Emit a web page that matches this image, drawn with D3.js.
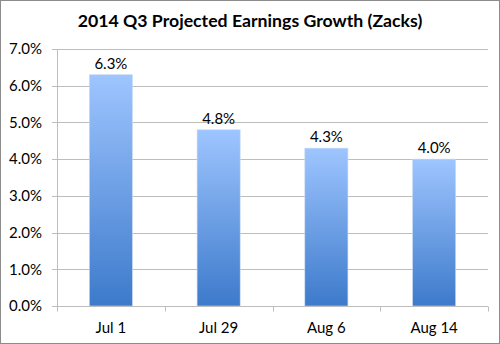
<!DOCTYPE html>
<html>
<head>
<meta charset="utf-8">
<script src="https://cdn.jsdelivr.net/npm/d3@7"></script>
<style>
  body { margin: 0; background: #fff; }
  svg { display: block; font-family: Lato, "Open Sans", sans-serif; }
</style>
</head>
<body>
<div id="chart"></div>
<script>
// chart data
const dates = ['Jul 1', 'Jul 29', 'Aug 6', 'Aug 14'];
const growth = [6.3, 4.8, 4.3, 4.0];
const yTicks = [0, 1, 2, 3, 4, 5, 6, 7];

const totalWidth = 500
const totalHeight = 344

const leftMargin = 57
const rightMargin = 12
const topMargin = 49
const bottomMargin = 38

const plotWidth = totalWidth - leftMargin - rightMargin;
const plotHeight = totalHeight - topMargin - bottomMargin;

const root = d3.select('#chart')
    .append('svg')
    .attr('width', totalWidth)
    .attr('height', totalHeight);

// outer frame
root.append('rect')
    .attr('x', 0.5).attr('y', 0.5)
    .attr('width', totalWidth - 1).attr('height', totalHeight - 1)
    .attr('fill', '#fff')
    .attr('stroke', '#8c8c8c');

const grad = root.append('defs').append('linearGradient')
    .attr('id', 'barFill')
    .attr('x1', 0).attr('y1', 0).attr('x2', 0).attr('y2', 1);
grad.append('stop').attr('offset', '0%').attr('stop-color', '#9ec5ff');
grad.append('stop').attr('offset', '100%').attr('stop-color', '#3d7acb');

root.append('text')
    .attr('x', totalWidth / 2)
    .attr('y', 27)
    .attr('text-anchor', 'middle')
    .style('font-size', '17.7px')
    .style('font-weight', 'bold')
    .attr('fill', '#000')
    .text('2014 Q3 Projected Earnings Growth (Zacks)');

const svg = root.append('g')
    .attr('transform', `translate(${leftMargin},${topMargin})`);

const xScale = d3.scaleBand()
    .domain(dates)
    .range([0, plotWidth])
    .paddingInner(0.6)
    .paddingOuter(0.3);

const yScale = d3.scaleLinear()
    .domain([0, 7])
    .range([plotHeight, 0]);

// gridlines
svg.append('g')
    .selectAll('line')
    .data(yTicks)
    .enter()
    .append('line')
    .attr('x1', -5)
    .attr('x2', plotWidth)
    .attr('y1', d => Math.round(yScale(d)) + 0.5)
    .attr('y2', d => Math.round(yScale(d)) + 0.5)
    .attr('stroke', '#bdbdbd');

// y labels
svg.append('g')
    .selectAll('text')
    .data(yTicks)
    .enter()
    .append('text')
    .attr('x', -15)
    .attr('y', d => yScale(d))
    .attr('dy', '0.35em')
    .attr('text-anchor', 'end')
    .style('font-size', '15px')
    .attr('fill', '#000')
    .text(d => d.toFixed(1) + '%');

// bars
svg.selectAll('rect.bar')
    .data(growth)
    .enter()
    .append('rect')
    .attr('class', 'bar')
    .attr('x', (d, i) => xScale(dates[i]))
    .attr('y', d => yScale(d))
    .attr('width', xScale.bandwidth())
    .attr('height', d => plotHeight - yScale(d))
    .attr('fill', 'url(#barFill)')
    .attr('stroke', '#c9dcf5')
    .attr('stroke-width', 0.6);

// value labels
svg.selectAll('text.value')
    .data(growth)
    .enter()
    .append('text')
    .attr('class', 'value')
    .attr('x', (d, i) => xScale(dates[i]) + xScale.bandwidth() / 2)
    .attr('y', d => yScale(d) - 6)
    .attr('text-anchor', 'middle')
    .style('font-size', '15px')
    .attr('fill', '#000')
    .text(d => d.toFixed(1) + '%');

// y axis line
svg.append('line')
    .attr('x1', 0.5).attr('x2', 0.5)
    .attr('y1', 0).attr('y2', plotHeight)
    .attr('stroke', '#bdbdbd');

// x axis
const xAxis = svg.append('g')
    .attr('transform', `translate(0, ${Math.round(plotHeight) + 0.5})`);
xAxis.append('line')
    .attr('x1', 0).attr('x2', plotWidth)
    .attr('stroke', '#bdbdbd');
const step = plotWidth / dates.length;
xAxis.selectAll('line.tick')
    .data(d3.range(dates.length + 1))
    .enter()
    .append('line')
    .attr('class', 'tick')
    .attr('x1', d => Math.round(d * step) + 0.5)
    .attr('x2', d => Math.round(d * step) + 0.5)
    .attr('y1', 0).attr('y2', 5)
    .attr('stroke', '#bdbdbd');
xAxis.selectAll('text')
    .data(dates)
    .enter()
    .append('text')
    .attr('x', d => xScale(d) + xScale.bandwidth() / 2)
    .attr('y', 26)
    .attr('text-anchor', 'middle')
    .style('font-size', '15px')
    .attr('fill', '#000')
    .text(d => d);
</script>
</body>
</html>
